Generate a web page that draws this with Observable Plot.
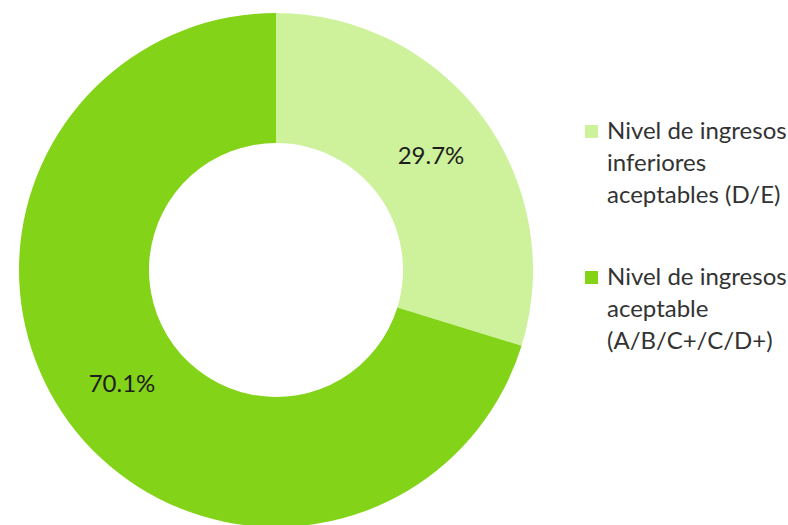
<!DOCTYPE html>
<html>
<head>
<meta charset="utf-8">
<script src="https://cdn.jsdelivr.net/npm/d3@7"></script>
<script src="https://cdn.jsdelivr.net/npm/@observablehq/plot@0.6"></script>
<style>
  html, body { margin: 0; padding: 0; background: #fff; }
  #wrap { position: relative; width: 788px; height: 525px; overflow: hidden; font-family: Lato, "Open Sans", sans-serif; }
  #chart { position: absolute; left: 0; top: 0; }
  .legend { position: absolute; left: 585px; color: #333; font-size: 24px; line-height: 32px; }
  .legend .item { position: absolute; left: 0; white-space: nowrap; }
  .legend .sw { position: absolute; left: 0; top: 11px; width: 13px; height: 13px; }
  .legend .txt { position: absolute; left: 22px; top: 0; }
</style>
</head>
<body>
<div id="wrap">
  <div id="chart"></div>
  <div class="legend" id="legend"></div>
</div>
<script>
// Income level shares
const categories = [
  "Nivel de ingresos inferiores aceptables (D/E)",
  "Nivel de ingresos aceptable (A/B/C+/C/D+)"
];
const shares = [29.7, 70.1];
const labels = ["29.7%", "70.1%"];
const legendLines = [
  ["Nivel de ingresos", "inferiores", "aceptables (D/E)"],
  ["Nivel de ingresos", "aceptable", "(A/B/C+/C/D+)"]
];
const colors = ["#cdf29b", "#83d318"];

const data = categories.map((category, i) => ({category, value: shares[i], label: labels[i]}));

// Donut geometry
const cx = 276, cy = 270, outerR = 257, innerR = 127;
const pie = d3.pie().sort(null).value(d => d.value);
const arcs = pie(data);
const arcGen = d3.arc().innerRadius(innerR).outerRadius(outerR);

// A ring-slice mark whose fill goes through Plot's color scale
class Donut extends Plot.Mark {
  constructor(data, options = {}) {
    super(data, {fill: {value: options.fill, scale: "color"}}, options, {});
  }
  render(index, scales, channels) {
    const g = d3.create("svg:g").attr("transform", `translate(${cx},${cy})`);
    g.selectAll("path")
      .data(index)
      .join("path")
      .attr("d", i => arcGen(arcs[i]))
      .attr("fill", i => channels.fill[i]);
    return g.node();
  }
}

const labelData = arcs.map(a => {
  const [x, y] = arcGen.centroid(a);
  return {x: cx + x, y: cy + y, label: a.data.label};
});

const chart = Plot.plot({
  width: 560,
  height: 525,
  margin: 0,
  x: {type: "identity", axis: null},
  y: {type: "identity", axis: null},
  color: {domain: categories, range: colors},
  marks: [
    new Donut(data, {fill: "category"}),
    Plot.text(labelData, {
      x: "x", y: "y", text: "label",
      fontSize: 24, fill: "#1e1e1e",
      fontFamily: "Lato, 'Open Sans', sans-serif"
    })
  ]
});
document.getElementById("chart").appendChild(chart);

// Legend to the right of the ring
const legend = document.getElementById("legend");
const tops = [114, 260];
legendLines.forEach((lines, i) => {
  const item = document.createElement("div");
  item.className = "item";
  item.style.top = tops[i] + "px";
  const sw = document.createElement("div");
  sw.className = "sw";
  sw.style.background = colors[i];
  const txt = document.createElement("div");
  txt.className = "txt";
  txt.innerHTML = lines.join("<br>");
  item.appendChild(sw);
  item.appendChild(txt);
  legend.appendChild(item);
});
</script>
</body>
</html>
